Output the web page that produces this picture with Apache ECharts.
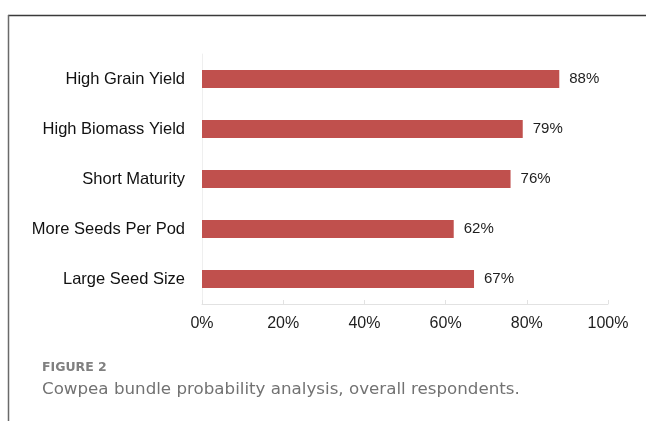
<!DOCTYPE html>
<html>
<head>
<meta charset="utf-8">
<script src="https://cdn.jsdelivr.net/npm/echarts@6/dist/echarts.min.js"></script>
<style>
html,body{margin:0;padding:0;background:#fff;}
#chart{width:646px;height:421px;}
</style>
</head>
<body>
<div id="chart"></div>
<script>
const categories = ["High Grain Yield", "High Biomass Yield", "Short Maturity", "More Seeds Per Pod", "Large Seed Size"];
const values = [88, 79, 76, 62, 67];
const xTicks = [0, 20, 40, 60, 80, 100];
const figureLabel = "FIGURE 2";
const captionText = "Cowpea bundle probability analysis, overall respondents.";

const chart = echarts.init(document.getElementById('chart'), null, {renderer: 'canvas'});
chart.setOption({
  animation: false,
  backgroundColor: '#ffffff',
  grid: {left: 202, right: 38, top: 54, bottom: 117, containLabel: false},
  xAxis: {
    type: 'value',
    min: xTicks[0],
    max: xTicks[xTicks.length - 1],
    interval: 20,
    axisLine: {show: true, lineStyle: {color: '#e2e2e2', width: 1}},
    axisTick: {show: true, inside: true, length: 4, lineStyle: {color: '#e2e2e2'}},
    splitLine: {show: false},
    axisLabel: {
      formatter: v => v + '%',
      fontFamily: 'Liberation Sans, Arial, sans-serif',
      fontSize: 16,
      color: '#1e1e1e',
      margin: 12
    }
  },
  yAxis: {
    type: 'category',
    data: categories,
    inverse: true,
    axisLine: {show: true, lineStyle: {color: '#efefef'}},
    axisTick: {show: false},
    axisLabel: {
      fontFamily: 'Liberation Sans, Arial, sans-serif',
      fontSize: 16.5,
      color: '#111111',
      margin: 17
    }
  },
  series: [{
    type: 'bar',
    data: values,
    barWidth: 18,
    itemStyle: {color: '#c0504d'},
    label: {
      show: true,
      position: 'right',
      distance: 10,
      formatter: p => p.value + '%',
      fontFamily: 'Liberation Sans, Arial, sans-serif',
      fontSize: 15,
      color: '#1e1e1e'
    }
  }],
  graphic: [
    {type: 'line', shape: {x1: 8, y1: 15.5, x2: 646, y2: 15.5}, style: {stroke: '#3a3a3a', lineWidth: 1.5}},
    {type: 'line', shape: {x1: 8.5, y1: 15, x2: 8.5, y2: 421}, style: {stroke: '#6a6a6a', lineWidth: 1.5}},
    {type: 'text', left: 42, top: 361, style: {text: figureLabel, fontFamily: 'DejaVu Sans, sans-serif', fontSize: 12.5, fontWeight: 'bold', fill: '#808080'}},
    {type: 'text', left: 42, top: 381, style: {text: captionText, fontFamily: 'DejaVu Sans, sans-serif', fontSize: 16.7, fontWeight: 'normal', fill: '#727272'}}
  ]
});
</script>
</body>
</html>
